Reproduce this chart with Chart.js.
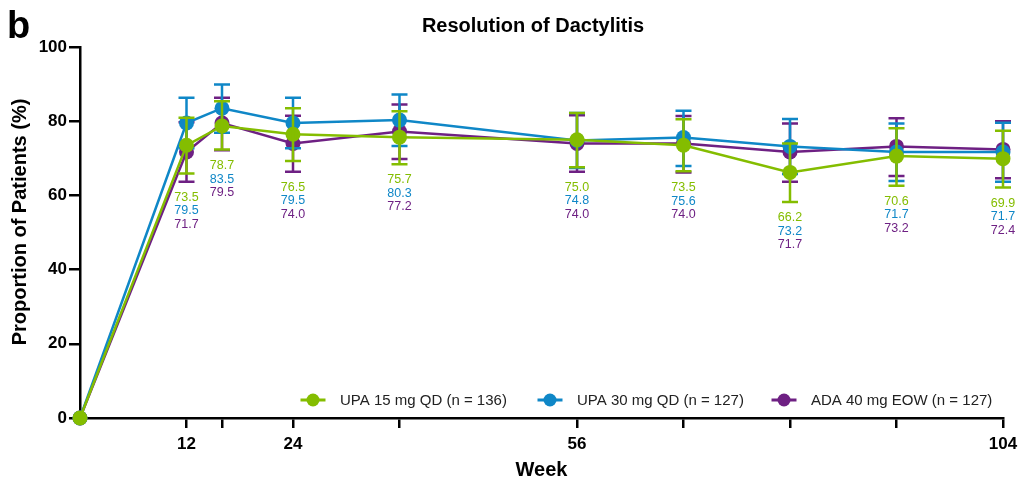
<!DOCTYPE html>
<html>
<head>
<meta charset="utf-8">
<script src="https://cdn.jsdelivr.net/npm/chart.js@4.4.1/dist/chart.umd.min.js"></script>
<style>
html,body{margin:0;padding:0;background:#fff;}
canvas{display:block;}
</style>
</head>
<body>
<canvas id="c" width="1029" height="484"></canvas>
<script>
// ---- data ----
const weeks = [0, 12, 16, 24, 36, 56, 68, 80, 92, 104];
const xTicks = [12, 16, 24, 36, 56, 68, 80, 92, 104];
const xTickLabels = [12, 24, 56, 104];
const seriesLabels = ['UPA 15 mg QD (n = 136)', 'UPA 30 mg QD (n = 127)', 'ADA 40 mg EOW (n = 127)'];
const upa15 = [0, 73.5, 78.7, 76.5, 75.7, 75.0, 73.5, 66.2, 70.6, 69.9];
const upa30 = [0, 79.5, 83.5, 79.5, 80.3, 74.8, 75.6, 73.2, 71.7, 71.7];
const ada40 = [0, 71.7, 79.5, 74.0, 77.2, 74.0, 74.0, 71.7, 73.2, 72.4];
const upa15Lo = [null, 65.9, 72.4, 69.3, 68.4, 67.6, 66.5, 58.2, 62.6, 62.1];
const upa15Hi = [null, 80.9, 85.4, 83.5, 82.7, 82.2, 80.5, 74.0, 78.1, 77.4];
const upa30Lo = [null, 72.7, 76.9, 72.7, 73.3, 67.4, 67.9, 65.8, 63.9, 63.7];
const upa30Hi = [null, 86.3, 89.9, 86.3, 87.2, 82.2, 82.8, 80.6, 79.4, 79.6];
const ada40Lo = [null, 63.7, 72.2, 66.4, 69.8, 66.4, 66.2, 63.7, 65.2, 64.6];
const ada40Hi = [null, 79.7, 86.3, 81.5, 84.5, 81.6, 81.4, 79.4, 80.8, 80.0];

const colors = ['#84bd00', '#0f87c7', '#6e2083'];
const values = [upa15, upa30, ada40];
const lows = [upa15Lo, upa30Lo, ada40Lo];
const highs = [upa15Hi, upa30Hi, ada40Hi];

const FONT = 'Liberation Sans, Arial, Helvetica, sans-serif';

const datasets = values.map((vals, k) => ({
  label: seriesLabels[k],
  data: weeks.map((w, i) => ({x: w, y: vals[i]})),
  borderColor: colors[k],
  backgroundColor: colors[k],
  pointBackgroundColor: colors[k],
  pointBorderColor: colors[k],
  pointBorderWidth: 0,
  pointRadius: 7.5,
  borderWidth: 2.5,
  tension: 0,
  clip: false
}));

const errorBars = {
  id: 'errorBars',
  afterDatasetDraw(chart, args) {
    const k = args.index;
    const ctx = chart.ctx;
    const xs = chart.scales.x, ys = chart.scales.y;
    ctx.save();
    ctx.strokeStyle = colors[k];
    ctx.lineWidth = 2.5;
    weeks.forEach((w, i) => {
      if (lows[k][i] == null) return;
      const x = xs.getPixelForValue(w);
      const y1 = ys.getPixelForValue(lows[k][i]);
      const y2 = ys.getPixelForValue(highs[k][i]);
      ctx.beginPath();
      ctx.moveTo(x, y1); ctx.lineTo(x, y2);
      ctx.moveTo(x - 8, y1); ctx.lineTo(x + 8, y1);
      ctx.moveTo(x - 8, y2); ctx.lineTo(x + 8, y2);
      ctx.stroke();
    });
    ctx.restore();
  }
};

const decorations = {
  id: 'decorations',
  afterDraw(chart) {
    const ctx = chart.ctx;
    const xs = chart.scales.x, ys = chart.scales.y;
    ctx.save();
    // data labels
    ctx.font = '12.5px ' + FONT;
    ctx.textAlign = 'center';
    ctx.textBaseline = 'middle';
    weeks.forEach((w, i) => {
      if (i === 0) return;
      const x = xs.getPixelForValue(w);
      let maxPix = 0;
      for (let k = 0; k < 3; k++) maxPix = Math.max(maxPix, ys.getPixelForValue(lows[k][i]));
      for (let k = 0; k < 3; k++) {
        ctx.fillStyle = colors[k];
        ctx.fillText(values[k][i].toFixed(1), x, maxPix + 15.5 + k * 13.5);
      }
    });
    // title
    ctx.fillStyle = '#000';
    ctx.font = 'bold 20px ' + FONT;
    ctx.fillText('Resolution of Dactylitis', 533, 26);
    // panel letter
    ctx.textAlign = 'left';
    ctx.textBaseline = 'alphabetic';
    ctx.font = 'bold 38px ' + FONT;
    ctx.fillText('b', 7, 38);
    // y title
    ctx.save();
    ctx.translate(20, 222);
    ctx.rotate(-Math.PI / 2);
    ctx.textAlign = 'center';
    ctx.textBaseline = 'middle';
    ctx.font = 'bold 20px ' + FONT;
    ctx.fillText('Proportion of Patients (%)', 0, 0);
    ctx.restore();
    // legend
    const lx = [313, 550, 784];
    const ly = 400;
    ctx.font = '15px ' + FONT;
    ctx.textBaseline = 'middle';
    ctx.textAlign = 'left';
    for (let k = 0; k < 3; k++) {
      ctx.strokeStyle = colors[k];
      ctx.fillStyle = colors[k];
      ctx.lineWidth = 3;
      ctx.beginPath();
      ctx.moveTo(lx[k] - 12.5, ly); ctx.lineTo(lx[k] + 12.5, ly);
      ctx.stroke();
      ctx.beginPath();
      ctx.arc(lx[k], ly, 6.5, 0, Math.PI * 2);
      ctx.fill();
      ctx.fillStyle = '#222';
      ctx.fillText(seriesLabels[k], lx[k] + 27, ly + 1);
    }
    ctx.restore();
  }
};

new Chart(document.getElementById('c'), {
  type: 'line',
  data: {datasets},
  plugins: [errorBars, decorations],
  options: {
    responsive: false,
    animation: false,
    devicePixelRatio: 1,
    layout: {padding: {top: 47, right: 26, left: 0, bottom: 0}},
    plugins: {legend: {display: false}, tooltip: {enabled: false}, title: {display: false}},
    scales: {
      x: {
        type: 'linear', min: 0, max: 104,
        afterBuildTicks: s => { s.ticks = xTicks.map(v => ({value: v})); },
        afterFit: s => { s.height = 66; },
        ticks: {
          autoSkip: false, maxRotation: 0, padding: 6, color: '#000',
          font: {family: FONT, size: 17, weight: 'bold'},
          callback: v => xTickLabels.includes(v) ? String(v) : ''
        },
        grid: {drawOnChartArea: false, drawTicks: true, tickLength: 10, color: '#000', lineWidth: 2.5},
        border: {display: true, color: '#000', width: 2.5},
        title: {display: true, text: 'Week', color: '#000', font: {family: FONT, size: 20, weight: 'bold'}, padding: {top: 0, bottom: 2}}
      },
      y: {
        min: 0, max: 100,
        afterFit: s => { s.width = 80; },
        ticks: {stepSize: 20, padding: 2, color: '#000', font: {family: FONT, size: 17, weight: 'bold'}},
        grid: {drawOnChartArea: false, drawTicks: true, tickLength: 11, color: '#000', lineWidth: 2.5},
        border: {display: true, color: '#000', width: 2.5}
      }
    }
  }
});
</script>
</body>
</html>
